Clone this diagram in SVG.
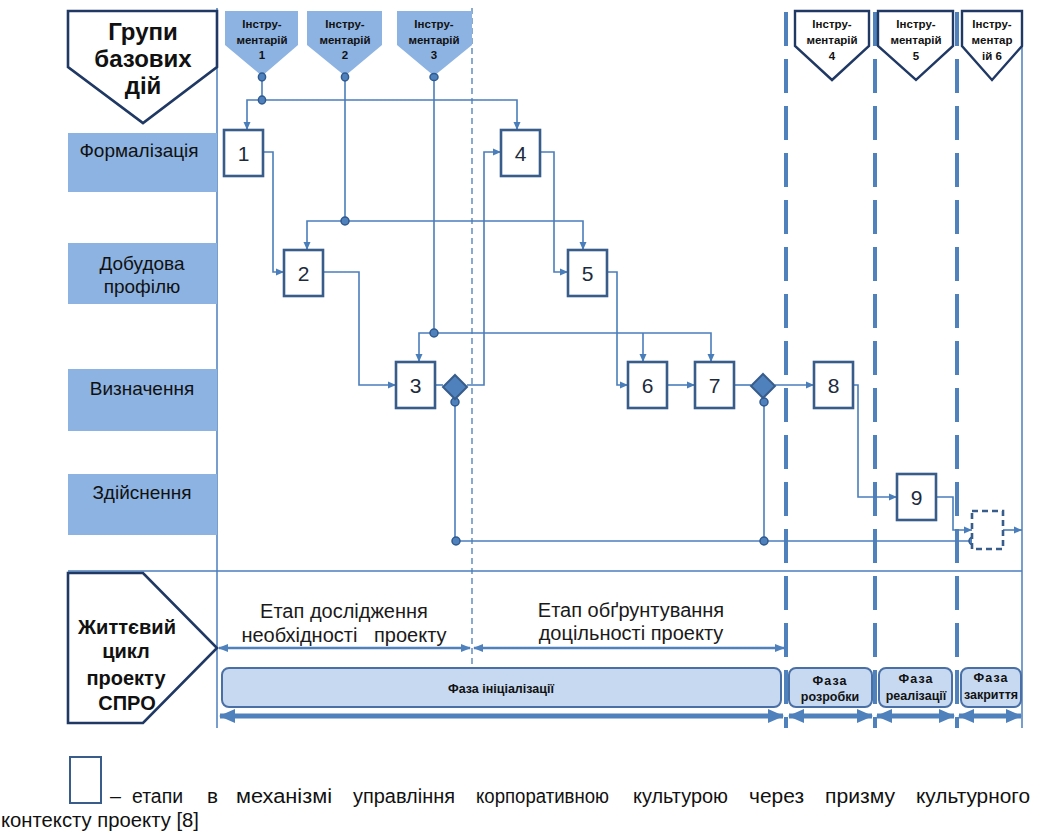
<svg xmlns="http://www.w3.org/2000/svg" width="1045" height="832" viewBox="0 0 1045 832">
  <defs>
    <style>
      .frame { stroke: #4a7ebb; stroke-width: 1.5; fill: none; }
      .phase-div { stroke: #4f81bd; stroke-width: 4; stroke-dasharray: 34 13; fill: none; }
      .stage-div { stroke: #4a7ebb; stroke-width: 1.3; stroke-dasharray: 6 4; fill: none; }
      .conn { stroke: #4a7ebb; stroke-width: 1.6; fill: none; }
      .arr { marker-end: url(#head); }
      .dot { fill: #4f81bd; stroke: #2f5a8f; stroke-width: 1.5; }
      .step { fill: #ffffff; stroke: #385d8a; stroke-width: 2.6; }
      .gate { fill: #4f81bd; stroke: #385d8a; stroke-width: 2; }
      .num { font-family: "Liberation Sans", Arial, sans-serif; font-size: 21px; fill: #1c2b3d; text-anchor: middle; }
      .row { fill: #8db3e2; }
      .rowtxt { font-family: "Liberation Sans", Arial, sans-serif; font-size: 19px; fill: #111111; text-anchor: middle; }
      .hdr { fill: #ffffff; stroke: #1f3864; stroke-width: 2.6; }
      .hdrtxt { font-family: "Liberation Sans", Arial, sans-serif; font-weight: bold; fill: #111111; text-anchor: middle; }
      .tool-a { fill: #8db3e2; }
      .tool-b { fill: #ffffff; stroke: #1f3864; stroke-width: 2.4; }
      .tooltxt { font-family: "Liberation Sans", Arial, sans-serif; font-weight: bold; font-size: 11.5px; fill: #111111; text-anchor: middle; }
      .stagetxt { font-family: "Liberation Sans", Arial, sans-serif; font-size: 20px; fill: #1a1a1a; text-anchor: middle; }
      .stagearr { stroke: #4f81bd; stroke-width: 2.6; fill: none; marker-start: url(#mid); marker-end: url(#mid); }
      .bar { fill: #c6d9f1; stroke: #4a6fa5; stroke-width: 2; }
      .bartxt { font-family: "Liberation Sans", Arial, sans-serif; font-weight: bold; font-size: 12.5px; fill: #111111; text-anchor: middle; }
      .spanarr { stroke: #4f81bd; stroke-width: 5; fill: none; marker-start: url(#big); marker-end: url(#big); }
      .legtxt { font-family: "Liberation Sans", Arial, sans-serif; font-size: 20px; fill: #111111; }
    </style>
    <marker id="head" viewBox="0 0 8 8" markerWidth="8" markerHeight="8" refX="8" refY="4" orient="auto" markerUnits="userSpaceOnUse">
      <path d="M0,0.5 L8,4 L0,7.5 z" fill="#4a7ebb"/>
    </marker>
    <marker id="mid" viewBox="0 0 10 10" markerWidth="10" markerHeight="10" refX="9" refY="5" orient="auto-start-reverse" markerUnits="userSpaceOnUse">
      <path d="M0,1 L10,5 L0,9 z" fill="#4f81bd"/>
    </marker>
    <marker id="big" viewBox="0 0 16 16" markerWidth="16" markerHeight="16" refX="15" refY="8" orient="auto-start-reverse" markerUnits="userSpaceOnUse">
      <path d="M0,1 L16,8 L0,15 z" fill="#4f81bd"/>
    </marker>
  </defs>

  <rect width="1045" height="832" fill="#ffffff"/>

  <!-- frame -->
  <g id="frame">
    <line class="frame" x1="217" y1="8" x2="217" y2="728"/>
    <line class="frame" x1="1022" y1="10" x2="1022" y2="728"/>
    <line class="frame" x1="68" y1="571" x2="1022" y2="571"/>
    <line class="stage-div" x1="472" y1="8" x2="472" y2="668"/>
    <line class="phase-div" x1="786" y1="12" x2="786" y2="728"/>
    <line class="phase-div" x1="875" y1="12" x2="875" y2="728"/>
    <line class="phase-div" x1="957" y1="12" x2="957" y2="728"/>
  </g>

  <!-- row headers -->
  <g id="groups-header">
    <polygon class="hdr" points="68,11 217,11 217,67 143,123 68,67"/>
    <text class="hdrtxt" font-size="24" x="143" y="40">Групи</text>
    <text class="hdrtxt" font-size="24" x="143" y="67">базових</text>
    <text class="hdrtxt" font-size="24" x="143" y="94">дій</text>
  </g>
  <g id="row-formalization">
    <rect class="row" x="68" y="133" width="149" height="59"/>
    <text class="rowtxt" x="139" y="157">Формалізація</text>
  </g>
  <g id="row-profile">
    <rect class="row" x="68" y="243" width="149" height="61"/>
    <text class="rowtxt" x="142" y="270">Добудова</text>
    <text class="rowtxt" x="142" y="293">профілю</text>
  </g>
  <g id="row-definition">
    <rect class="row" x="68" y="369" width="149" height="62"/>
    <text class="rowtxt" x="142" y="395">Визначення</text>
  </g>
  <g id="row-execution">
    <rect class="row" x="68" y="474" width="149" height="61"/>
    <text class="rowtxt" x="142" y="499">Здійснення</text>
  </g>

  <!-- toolsets -->
  <g id="tools-1">
    <polygon class="tool-a" points="225,11 298,11 298,45 262,76 225,45"/>
    <text class="tooltxt" x="262" y="28">Інстру-</text>
    <text class="tooltxt" x="262" y="44">ментарій</text>
    <text class="tooltxt" x="262" y="59">1</text>
  </g>
  <g id="tools-2">
    <polygon class="tool-a" points="307,11 382,11 382,45 345,76 307,45"/>
    <text class="tooltxt" x="345" y="28">Інстру-</text>
    <text class="tooltxt" x="345" y="44">ментарій</text>
    <text class="tooltxt" x="345" y="59">2</text>
  </g>
  <g id="tools-3">
    <polygon class="tool-a" points="397,11 472,11 472,45 434,76 397,45"/>
    <text class="tooltxt" x="434" y="28">Інстру-</text>
    <text class="tooltxt" x="434" y="44">ментарій</text>
    <text class="tooltxt" x="434" y="59">3</text>
  </g>
  <g id="tools-4">
    <polygon class="tool-b" points="795,11 869,11 869,46 832,80 795,46"/>
    <text class="tooltxt" x="832" y="28">Інстру-</text>
    <text class="tooltxt" x="832" y="44">ментарій</text>
    <text class="tooltxt" x="832" y="60">4</text>
  </g>
  <g id="tools-5">
    <polygon class="tool-b" points="878,11 953,11 953,46 916,80 878,46"/>
    <text class="tooltxt" x="916" y="28">Інстру-</text>
    <text class="tooltxt" x="916" y="44">ментарій</text>
    <text class="tooltxt" x="916" y="60">5</text>
  </g>
  <g id="tools-6">
    <polygon class="tool-b" points="962,11 1022,11 1022,46 992,80 962,46"/>
    <text class="tooltxt" x="992" y="28">Інстру-</text>
    <text class="tooltxt" x="992" y="44">ментар</text>
    <text class="tooltxt" x="992" y="60">ій 6</text>
  </g>

  <!-- connectors -->
  <g id="connectors">
    <path class="conn" d="M262,80 V100"/>
    <path class="conn arr" d="M262,100 H247 V130"/>
    <path class="conn arr" d="M262,100 H517 V130"/>
    <path class="conn" d="M345,80 V221"/>
    <path class="conn arr" d="M345,221 H307 V250"/>
    <path class="conn arr" d="M345,221 H583 V250"/>
    <path class="conn" d="M434,80 V333"/>
    <path class="conn arr" d="M434,333 H419 V362"/>
    <path class="conn arr" d="M434,333 H711 V362"/>
    <path class="conn arr" d="M643,333 V362"/>
    <path class="conn arr" d="M263,152 H273 V272 H284"/>
    <path class="conn arr" d="M323,272 H359 V385 H396"/>
    <path class="conn" d="M435,385 H443"/>
    <path class="conn arr" d="M467,385 H484 V152 H501"/>
    <path class="conn arr" d="M539,152 H554 V272 H568"/>
    <path class="conn arr" d="M607,272 H617 V385 H628"/>
    <path class="conn arr" d="M667,385 H695"/>
    <path class="conn" d="M734,385 H751"/>
    <path class="conn arr" d="M775,385 H814"/>
    <path class="conn arr" d="M853,385 H858 V497 H897"/>
    <path class="conn arr" d="M935,497 H953 V530 H972"/>
    <path class="conn arr" d="M1003,530 H1022"/>
    <path class="conn" d="M455,402 V541"/>
    <path class="conn" d="M764,402 V541"/>
    <path class="conn" d="M455,541 H973"/>
    <ellipse class="dot" cx="262" cy="77" rx="3.6" ry="4"/>
    <ellipse class="dot" cx="345" cy="77" rx="3.6" ry="4"/>
    <ellipse class="dot" cx="434" cy="77" rx="4" ry="3.6"/>
    <ellipse class="dot" cx="262" cy="100" rx="3.6" ry="4"/>
    <circle class="dot" cx="345" cy="221" r="4"/>
    <circle class="dot" cx="434" cy="333" r="4"/>
    <circle class="dot" cx="455" cy="402" r="4"/>
    <circle class="dot" cx="764" cy="402" r="4"/>
    <circle class="dot" cx="456" cy="541" r="4"/>
    <circle class="dot" cx="764" cy="541" r="4"/>
    <circle class="dot" cx="973" cy="541" r="4"/>
  </g>

  <!-- process steps -->
  <g id="step-1"><rect class="step" x="224" y="130" width="39" height="46"/><text class="num" x="243.5" y="161">1</text></g>
  <g id="step-2"><rect class="step" x="284" y="250" width="39" height="46"/><text class="num" x="303.5" y="281">2</text></g>
  <g id="step-3"><rect class="step" x="396" y="362" width="39" height="46"/><text class="num" x="415.5" y="393">3</text></g>
  <g id="gate-a"><polygon class="gate" points="455,375 467,387 455,399 443,387"/></g>
  <g id="step-4"><rect class="step" x="501" y="130" width="39" height="46"/><text class="num" x="520.5" y="161">4</text></g>
  <g id="step-5"><rect class="step" x="568" y="250" width="39" height="46"/><text class="num" x="587.5" y="281">5</text></g>
  <g id="step-6"><rect class="step" x="628" y="362" width="39" height="46"/><text class="num" x="647.5" y="393">6</text></g>
  <g id="step-7"><rect class="step" x="695" y="362" width="39" height="46"/><text class="num" x="714.5" y="393">7</text></g>
  <g id="gate-b"><polygon class="gate" points="763,374 775,386 763,398 751,386"/></g>
  <g id="step-8"><rect class="step" x="814" y="362" width="39" height="46"/><text class="num" x="833.5" y="393">8</text></g>
  <g id="step-9"><rect class="step" x="897" y="474" width="39" height="46"/><text class="num" x="916.5" y="505">9</text></g>
  <g id="step-next"><rect class="step" x="972" y="511" width="31" height="38" stroke-dasharray="6 4"/></g>

  <!-- life cycle -->
  <g id="lifecycle-header">
    <polygon class="hdr" points="68,573 143,573 217,648 143,723 68,723"/>
    <text class="hdrtxt" font-size="20" x="127" y="634">Життєвий</text>
    <text class="hdrtxt" font-size="20" x="126" y="658">цикл</text>
    <text class="hdrtxt" font-size="20" x="126" y="685">проекту</text>
    <text class="hdrtxt" font-size="20" x="127" y="710">СПРО</text>
  </g>
  <g id="stage-research">
    <text class="stagetxt" x="344" y="618">Етап дослідження</text>
    <text class="stagetxt" x="344" y="642" xml:space="preserve">необхідності   проекту</text>
    <line class="stagearr" x1="219" y1="648" x2="470" y2="648"/>
  </g>
  <g id="stage-feasibility">
    <text class="stagetxt" x="631" y="617">Етап обґрунтування</text>
    <text class="stagetxt" x="631" y="640">доцільності проекту</text>
    <line class="stagearr" x1="474" y1="648" x2="784" y2="648"/>
  </g>
  <g id="phase-init">
    <rect class="bar" x="222" y="668" width="559" height="39" rx="7"/>
    <text class="bartxt" font-size="12" x="501" y="693">Фаза ініціалізації</text>
    <line class="spanarr" x1="220" y1="716" x2="783" y2="716"/>
  </g>
  <g id="phase-dev">
    <rect class="bar" x="789" y="668" width="83" height="39" rx="7"/>
    <text class="bartxt" x="830" y="685" letter-spacing="1">Фаза</text>
    <text class="bartxt" x="830" y="701">розробки</text>
    <line class="spanarr" x1="789" y1="716" x2="872" y2="716"/>
  </g>
  <g id="phase-impl">
    <rect class="bar" x="879" y="668" width="73" height="39" rx="7"/>
    <text class="bartxt" x="916" y="683" letter-spacing="1">Фаза</text>
    <text class="bartxt" x="916" y="700">реалізації</text>
    <line class="spanarr" x1="877" y1="716" x2="954" y2="716"/>
  </g>
  <g id="phase-close">
    <rect class="bar" x="961" y="668" width="60" height="39" rx="7"/>
    <text class="bartxt" x="991" y="682" letter-spacing="1">Фаза</text>
    <text class="bartxt" font-size="12" x="991" y="699">закриття</text>
    <line class="spanarr" x1="959" y1="716" x2="1021" y2="716"/>
  </g>

  <!-- legend: justified caption line, one word per span -->
  <g id="legend">
    <rect x="70" y="757" width="31" height="46" fill="none" stroke="#385d8a" stroke-width="2"/>
    <text class="legtxt" y="803">
      <tspan x="110" textLength="11" lengthAdjust="spacingAndGlyphs">–</tspan>
      <tspan x="132" textLength="51" lengthAdjust="spacingAndGlyphs">етапи</tspan>
      <tspan x="207" textLength="11" lengthAdjust="spacingAndGlyphs">в</tspan>
      <tspan x="236" textLength="96" lengthAdjust="spacingAndGlyphs">механізмі</tspan>
      <tspan x="353" textLength="102" lengthAdjust="spacingAndGlyphs">управління</tspan>
      <tspan x="476" textLength="133" lengthAdjust="spacingAndGlyphs">корпоративною</tspan>
      <tspan x="633" textLength="95" lengthAdjust="spacingAndGlyphs">культурою</tspan>
      <tspan x="749" textLength="55" lengthAdjust="spacingAndGlyphs">через</tspan>
      <tspan x="825" textLength="70" lengthAdjust="spacingAndGlyphs">призму</tspan>
      <tspan x="916" textLength="114" lengthAdjust="spacingAndGlyphs">культурного</tspan>
    </text>
    <text class="legtxt" x="1" y="827" textLength="198" lengthAdjust="spacingAndGlyphs">контексту проекту [8]</text>
  </g>
</svg>
